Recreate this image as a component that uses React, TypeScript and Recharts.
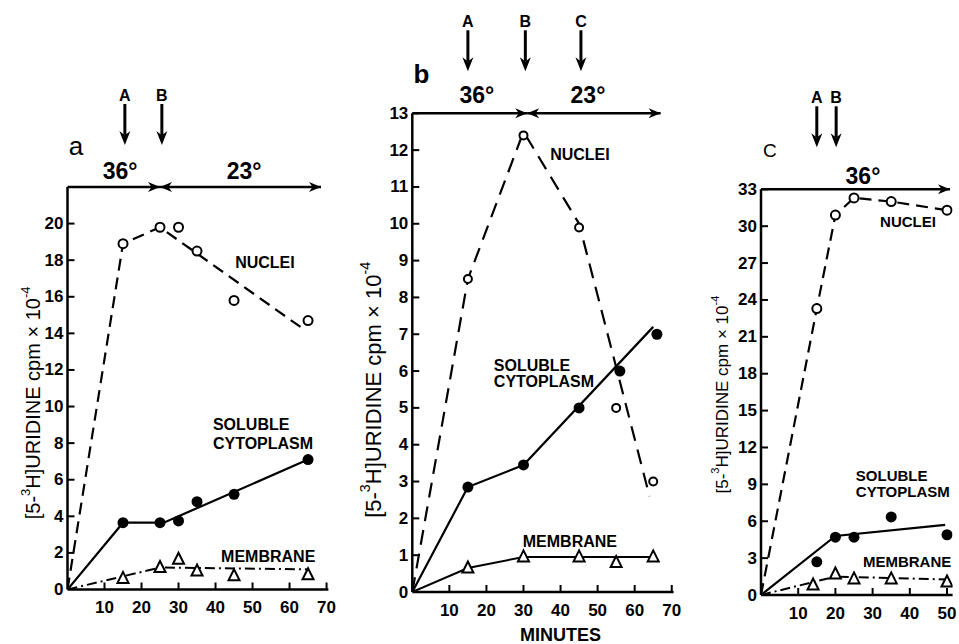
import React from "react";
import {
  ComposedChart,
  Line,
  Scatter,
  XAxis,
  YAxis,
  ReferenceLine,
  ReferenceDot,
} from "recharts";

// ---- panel a (36° then 23°) ----
const aTimes = [15, 25, 30, 35, 45, 65];
const aNuclei = [18.9, 19.8, 19.8, 18.5, 15.8, 14.7];
const aSoluble = [3.65, 3.65, 3.75, 4.8, 5.2, 7.1];
const aMembrane = [0.6, 1.2, 1.65, 1.0, 0.75, 0.8];
const aNucleiFitT = [0, 15, 25, 64];
const aNucleiFit = [0, 18.9, 19.8, 14.2];
const aSolubleFitT = [0, 15, 26, 65];
const aSolubleFit = [0, 3.65, 3.65, 7.1];
const aMembraneFitT = [0, 25, 65];
const aMembraneFit = [0, 1.2, 1.1];

// ---- panel b ----
const bNucleiT = [15, 30, 45, 55, 65];
const bNuclei = [8.5, 12.4, 9.9, 5.0, 3.0];
const bSolubleT = [15, 30, 45, 56, 66];
const bSoluble = [2.85, 3.45, 5.0, 6.0, 7.0];
const bMembraneT = [15, 30, 45, 55, 65];
const bMembrane = [0.65, 0.95, 0.95, 0.8, 0.95];
const bNucleiFitT = [0, 15, 30, 45, 64];
const bNucleiFit = [0, 8.5, 12.5, 10, 2.6];
const bSolubleFitT = [0, 15, 30, 65];
const bSolubleFit = [0, 2.85, 3.45, 7.2];
const bMembraneFitT = [0, 15, 30, 65];
const bMembraneFit = [0, 0.65, 0.95, 0.95];

// ---- panel c (36° only) ----
const cNucleiT = [15, 20, 25, 35, 50];
const cNuclei = [23.3, 30.9, 32.3, 32.0, 31.3];
const cSolubleT = [15, 20, 25, 35, 50];
const cSoluble = [2.7, 4.7, 4.7, 6.35, 4.9];
const cMembraneT = [14, 20, 25, 35, 50];
const cMembrane = [0.8, 1.7, 1.3, 1.3, 1.05];
const cNucleiFitT = [0, 15, 20, 25, 35, 50];
const cNucleiFit = [0, 23.3, 30.9, 32.3, 32.0, 31.3];
const cSolubleFitT = [0, 20, 49.5];
const cSolubleFit = [0, 4.8, 5.7];
const cMembraneFitT = [0, 20, 51.5];
const cMembraneFit = [0, 1.5, 1.25];

// tick labels
const ticksXa = [10, 20, 30, 40, 50, 60, 70];
const ticksYa = [0, 2, 4, 6, 8, 10, 12, 14, 16, 18, 20];
const ticksYb = [0, 1, 2, 3, 4, 5, 6, 7, 8, 9, 10, 11, 12, 13];
const ticksXc = [10, 20, 30, 40, 50];
const ticksYc = [0, 3, 6, 9, 12, 15, 18, 21, 24, 27, 30, 33];

const FONT = "'Liberation Sans', Arial, Helvetica, sans-serif";
const K = "#000";

const pts = (t: number[], v: number[]) => t.map((x, i) => ({ x, y: v[i] }));

const XTick = (p: any) => (
  <g>
    <line x1={p.x} x2={p.x} y1={p.y} y2={p.y - 7} stroke={K} strokeWidth={2} />
    <text x={p.x} y={p.y + 18} textAnchor="middle" dominantBaseline="central" fontSize={17} fontWeight="bold" fontFamily={FONT} fill={K}>
      {p.payload.value}
    </text>
  </g>
);

const YTick = (p: any) => (
  <g>
    {p.payload.value !== 0 && (
      <line x1={p.x} x2={p.x + 7} y1={p.y} y2={p.y} stroke={K} strokeWidth={2} />
    )}
    <text x={p.x - 4} y={p.y} textAnchor="end" dominantBaseline="central" fontSize={17} fontWeight="bold" fontFamily={FONT} fill={K}>
      {p.payload.value}
    </text>
  </g>
);

const OpenCircle = (r: number) => (p: any) =>
  <circle cx={p.cx} cy={p.cy} r={r} fill="#fff" stroke={K} strokeWidth={2} />;
const FilledCircle = (r: number) => (p: any) =>
  <circle cx={p.cx} cy={p.cy} r={r} fill={K} />;
const Triangle = (s: number) => (p: any) => (
  <polygon
    points={`${p.cx},${p.cy - s * 0.6} ${p.cx - s / 2},${p.cy + s * 0.4} ${p.cx + s / 2},${p.cy + s * 0.4}`}
    fill="#fff"
    stroke={K}
    strokeWidth={2}
  />
);

const head = (x: number, y: number, dx: number, dy: number, len = 12, half = 5) => {
  const bx = x - dx * len, by = y - dy * len;
  const nx = -dy, ny = dx;
  const mx = x - dx * len * 0.7, my = y - dy * len * 0.7;
  return `${x},${y} ${bx + nx * half},${by + ny * half} ${mx},${my} ${bx - nx * half},${by - ny * half}`;
};

// horizontal temperature arrow between two times
const tempArrow = (start: boolean, end: boolean) => (p: any) => {
  const { x1, y1, x2 } = p;
  return (
    <g>
      <line x1={x1} y1={y1} x2={x2} y2={y1} stroke={K} strokeWidth={2.4} />
      {end && <polygon points={head(x2, y1, 1, 0)} fill={K} />}
      {start && <polygon points={head(x1, y1, -1, 0)} fill={K} />}
    </g>
  );
};

// vertical time-point arrow (A, B, C) above the plot
const timeArrow = (name: string) => (p: any) => {
  const top = Math.min(p.y1, p.y2);
  const x = p.x1;
  return (
    <g>
      <text x={x} y={top - 92} textAnchor="middle" dominantBaseline="central" fontSize={16} fontWeight="bold" fontFamily={FONT} fill={K}>
        {name}
      </text>
      <line x1={x} x2={x} y1={top - 83} y2={top - 52} stroke={K} strokeWidth={3} />
      <polygon points={head(x, top - 42, 0, 1, 14, 5.5)} fill={K} />
    </g>
  );
};

const textAt = (lines: string[], opts: { size?: number; weight?: string; anchor?: string; dy?: number; dx?: number; lh?: number } = {}) =>
  (p: any) => {
    const { size = 16, weight = "bold", anchor = "start", dy = 0, dx = 0, lh = 18 } = opts;
    return (
      <text textAnchor={anchor as any} fontSize={size} fontWeight={weight} fontFamily={FONT} fill={K}>
        {lines.map((l, i) => (
          <tspan key={i} x={p.cx + dx} y={p.cy + dy + i * lh} dominantBaseline="central">
            {l}
          </tspan>
        ))}
      </text>
    );
  };

const yTitle = (size: number, dx: number) => (p: any) => (
  <text
    transform={`translate(${p.cx + dx},${p.cy}) rotate(-90)`}
    textAnchor="middle"
    dominantBaseline="central"
    fontSize={size}
    fontFamily={FONT}
    fill={K}
  >
    [5-<tspan dy={-size * 0.4} fontSize={size * 0.65}>3</tspan>
    <tspan dy={size * 0.4}>H]URIDINE cpm × 10</tspan>
    <tspan dy={-size * 0.4} fontSize={size * 0.65}>-4</tspan>
  </text>
);

type Panel = {
  left: number;
  width: number;
  margin: { top: number; right: number; bottom: number; left: number };
  xMax: number;
  yMax: number;
  xTicks: number[];
  yTicks: number[];
  nuclei: { x: number; y: number }[];
  soluble: { x: number; y: number }[];
  membrane: { x: number; y: number }[];
  nucleiFit: { x: number; y: number }[];
  solubleFit: { x: number; y: number }[];
  membraneFit: { x: number; y: number }[];
  membraneDash: string;
  nucleiDash: string;
  rOpen: number;
  rFilled: number;
  extras: React.ReactNode[];
};

const Chart = ({ p }: { p: Panel }) => (
  <div style={{ position: "absolute", left: p.left, top: 0 }}>
    <ComposedChart width={p.width} height={644} margin={p.margin}>
      <XAxis
        dataKey="x"
        type="number"
        domain={[0, p.xMax]}
        ticks={p.xTicks}
        interval={0}
        allowDataOverflow
        height={30}
        tickSize={0}
        tickMargin={0}
        tickLine={false}
        axisLine={{ stroke: K, strokeWidth: 2.5 }}
        tick={XTick}
      />
      <YAxis
        dataKey="y"
        type="number"
        domain={[0, p.yMax]}
        ticks={p.yTicks}
        interval={0}
        allowDataOverflow
        width={30}
        tickSize={0}
        tickMargin={0}
        tickLine={false}
        axisLine={{ stroke: K, strokeWidth: 2.5 }}
        tick={YTick}
      />
      <Line data={p.nucleiFit} dataKey="y" type="linear" stroke={K} strokeWidth={2.2} strokeDasharray={p.nucleiDash} dot={false} isAnimationActive={false} />
      <Line data={p.solubleFit} dataKey="y" type="linear" stroke={K} strokeWidth={2.2} dot={false} isAnimationActive={false} />
      <Line data={p.membraneFit} dataKey="y" type="linear" stroke={K} strokeWidth={2} strokeDasharray={p.membraneDash} dot={false} isAnimationActive={false} />
      <Scatter data={p.nuclei} dataKey="y" shape={OpenCircle(p.rOpen)} isAnimationActive={false} />
      <Scatter data={p.soluble} dataKey="y" shape={FilledCircle(p.rFilled)} isAnimationActive={false} />
      <Scatter data={p.membrane} dataKey="y" shape={Triangle(11)} isAnimationActive={false} />
      {p.extras}
    </ComposedChart>
  </div>
);

const panelA: Panel = {
  left: 0,
  width: 345,
  margin: { top: 187, right: 16.6, bottom: 24.5, left: 37.5 },
  xMax: 70.5,
  yMax: 22,
  xTicks: ticksXa,
  yTicks: ticksYa,
  nuclei: pts(aTimes, aNuclei),
  soluble: pts(aTimes, aSoluble),
  membrane: pts(aTimes, aMembrane),
  nucleiFit: pts(aNucleiFitT, aNucleiFit),
  solubleFit: pts(aSolubleFitT, aSolubleFit),
  membraneFit: pts(aMembraneFitT, aMembraneFit),
  membraneDash: "10 4 2 4",
  nucleiDash: "12 7",
  rOpen: 4.5,
  rFilled: 5.5,
  extras: [
    <ReferenceLine key="t1" segment={[{ x: 0, y: 22 }, { x: 25, y: 22 }]} ifOverflow="visible" shape={tempArrow(false, true)} />,
    <ReferenceLine key="t2" segment={[{ x: 25, y: 22 }, { x: 68.5, y: 22 }]} ifOverflow="visible" shape={tempArrow(true, true)} />,
    <ReferenceLine key="A" x={15.5} ifOverflow="visible" shape={timeArrow("A")} />,
    <ReferenceLine key="B" x={25.5} ifOverflow="visible" shape={timeArrow("B")} />,
    <ReferenceDot key="l36" x={14.2} y={22} r={0} ifOverflow="visible" shape={textAt(["36°"], { size: 23, weight: "bold", anchor: "middle", dy: -16 })} />,
    <ReferenceDot key="l23" x={47.7} y={22} r={0} ifOverflow="visible" shape={textAt(["23°"], { size: 23, weight: "bold", anchor: "middle", dy: -16 })} />,
    <ReferenceDot key="let" x={2.3} y={22} r={0} ifOverflow="visible" shape={textAt(["a"], { size: 26, weight: "normal", anchor: "middle", dy: -41 })} />,
    <ReferenceDot key="nuc" x={45.3} y={17.9} r={0} ifOverflow="visible" shape={textAt(["NUCLEI"])} />,
    <ReferenceDot key="sol" x={39.3} y={9.0} r={0} ifOverflow="visible" shape={textAt(["SOLUBLE", "CYTOPLASM"], { lh: 19 })} />,
    <ReferenceDot key="mem" x={41.5} y={1.8} r={0} ifOverflow="visible" shape={textAt(["MEMBRANE"])} />,
    <ReferenceDot key="yt" x={0} y={10.2} r={0} ifOverflow="visible" shape={yTitle(20, -35)} />,
  ],
};

const panelB: Panel = {
  left: 345,
  width: 355,
  margin: { top: 113.3, right: 26.4, bottom: 22, left: 37.3 },
  xMax: 70.5,
  yMax: 13,
  xTicks: ticksXa,
  yTicks: ticksYb,
  nuclei: pts(bNucleiT, bNuclei),
  soluble: pts(bSolubleT, bSoluble),
  membrane: pts(bMembraneT, bMembrane),
  nucleiFit: pts(bNucleiFitT, bNucleiFit),
  solubleFit: pts(bSolubleFitT, bSolubleFit),
  membraneFit: pts(bMembraneFitT, bMembraneFit),
  membraneDash: "",
  nucleiDash: "15 9",
  rOpen: 4,
  rFilled: 5.5,
  extras: [
    <ReferenceLine key="t1" segment={[{ x: 0, y: 13 }, { x: 31, y: 13 }]} ifOverflow="visible" shape={tempArrow(false, true)} />,
    <ReferenceLine key="t2" segment={[{ x: 31, y: 13 }, { x: 67, y: 13 }]} ifOverflow="visible" shape={tempArrow(true, true)} />,
    <ReferenceLine key="A" x={15} ifOverflow="visible" shape={timeArrow("A")} />,
    <ReferenceLine key="B" x={30.5} ifOverflow="visible" shape={timeArrow("B")} />,
    <ReferenceLine key="C" x={45.5} ifOverflow="visible" shape={timeArrow("C")} />,
    <ReferenceDot key="l36" x={17.4} y={13} r={0} ifOverflow="visible" shape={textAt(["36°"], { size: 23, weight: "bold", anchor: "middle", dy: -18 })} />,
    <ReferenceDot key="l23" x={47.4} y={13} r={0} ifOverflow="visible" shape={textAt(["23°"], { size: 23, weight: "bold", anchor: "middle", dy: -18 })} />,
    <ReferenceDot key="let" x={2.5} y={13} r={0} ifOverflow="visible" shape={textAt(["b"], { size: 26, weight: "bold", anchor: "middle", dy: -39 })} />,
    <ReferenceDot key="nuc" x={37.2} y={11.87} r={0} ifOverflow="visible" shape={textAt(["NUCLEI"])} />,
    <ReferenceDot key="sol" x={22} y={6.14} r={0} ifOverflow="visible" shape={textAt(["SOLUBLE", "CYTOPLASM"], { lh: 16 })} />,
    <ReferenceDot key="mem" x={29.8} y={1.37} r={0} ifOverflow="visible" shape={textAt(["MEMBRANE"])} />,
    <ReferenceDot key="min" x={40} y={0} r={0} ifOverflow="visible" shape={textAt(["MINUTES"], { size: 18, weight: "bold", anchor: "middle", dy: 43 })} />,
    <ReferenceDot key="yt" x={0} y={5.49} r={0} ifOverflow="visible" shape={yTitle(22, -39)} />,
  ],
};

const panelC: Panel = {
  left: 700,
  width: 259,
  margin: { top: 189.3, right: 6.4, bottom: 19, left: 31 },
  xMax: 51.5,
  yMax: 33,
  xTicks: ticksXc,
  yTicks: ticksYc,
  nuclei: pts(cNucleiT, cNuclei),
  soluble: pts(cSolubleT, cSoluble),
  membrane: pts(cMembraneT, cMembrane),
  nucleiFit: pts(cNucleiFitT, cNucleiFit),
  solubleFit: pts(cSolubleFitT, cSolubleFit),
  membraneFit: pts(cMembraneFitT, cMembraneFit),
  membraneDash: "10 4 2 4",
  nucleiDash: "12 7",
  rOpen: 4.5,
  rFilled: 5.5,
  extras: [
    <ReferenceLine key="t1" segment={[{ x: 0, y: 33 }, { x: 50.8, y: 33 }]} ifOverflow="visible" shape={tempArrow(false, true)} />,
    <ReferenceLine key="A" x={15} ifOverflow="visible" shape={timeArrow("A")} />,
    <ReferenceLine key="B" x={20.2} ifOverflow="visible" shape={timeArrow("B")} />,
    <ReferenceDot key="l36" x={27.4} y={33} r={0} ifOverflow="visible" shape={textAt(["36°"], { size: 23, weight: "bold", anchor: "middle", dy: -13 })} />,
    <ReferenceDot key="let" x={2.4} y={33} r={0} ifOverflow="visible" shape={textAt(["C"], { size: 19, weight: "normal", anchor: "middle", dy: -39 })} />,
    <ReferenceDot key="nuc" x={32} y={30.4} r={0} ifOverflow="visible" shape={textAt(["NUCLEI"], { size: 15 })} />,
    <ReferenceDot key="sol" x={25.5} y={9.76} r={0} ifOverflow="visible" shape={textAt(["SOLUBLE", "CYTOPLASM"], { size: 15, lh: 16 })} />,
    <ReferenceDot key="mem" x={27.4} y={2.7} r={0} ifOverflow="visible" shape={textAt(["MEMBRANE"], { size: 15 })} />,
    <ReferenceDot key="yt" x={0} y={16.3} r={0} ifOverflow="visible" shape={yTitle(17, -39)} />,
  ],
};

export default function App() {
  return (
    <div style={{ position: "absolute", left: 0, top: 0, width: 959, height: 644, background: "#fff", overflow: "hidden" }}>
      <Chart p={panelA} />
      <Chart p={panelB} />
      <Chart p={panelC} />
    </div>
  );
}
